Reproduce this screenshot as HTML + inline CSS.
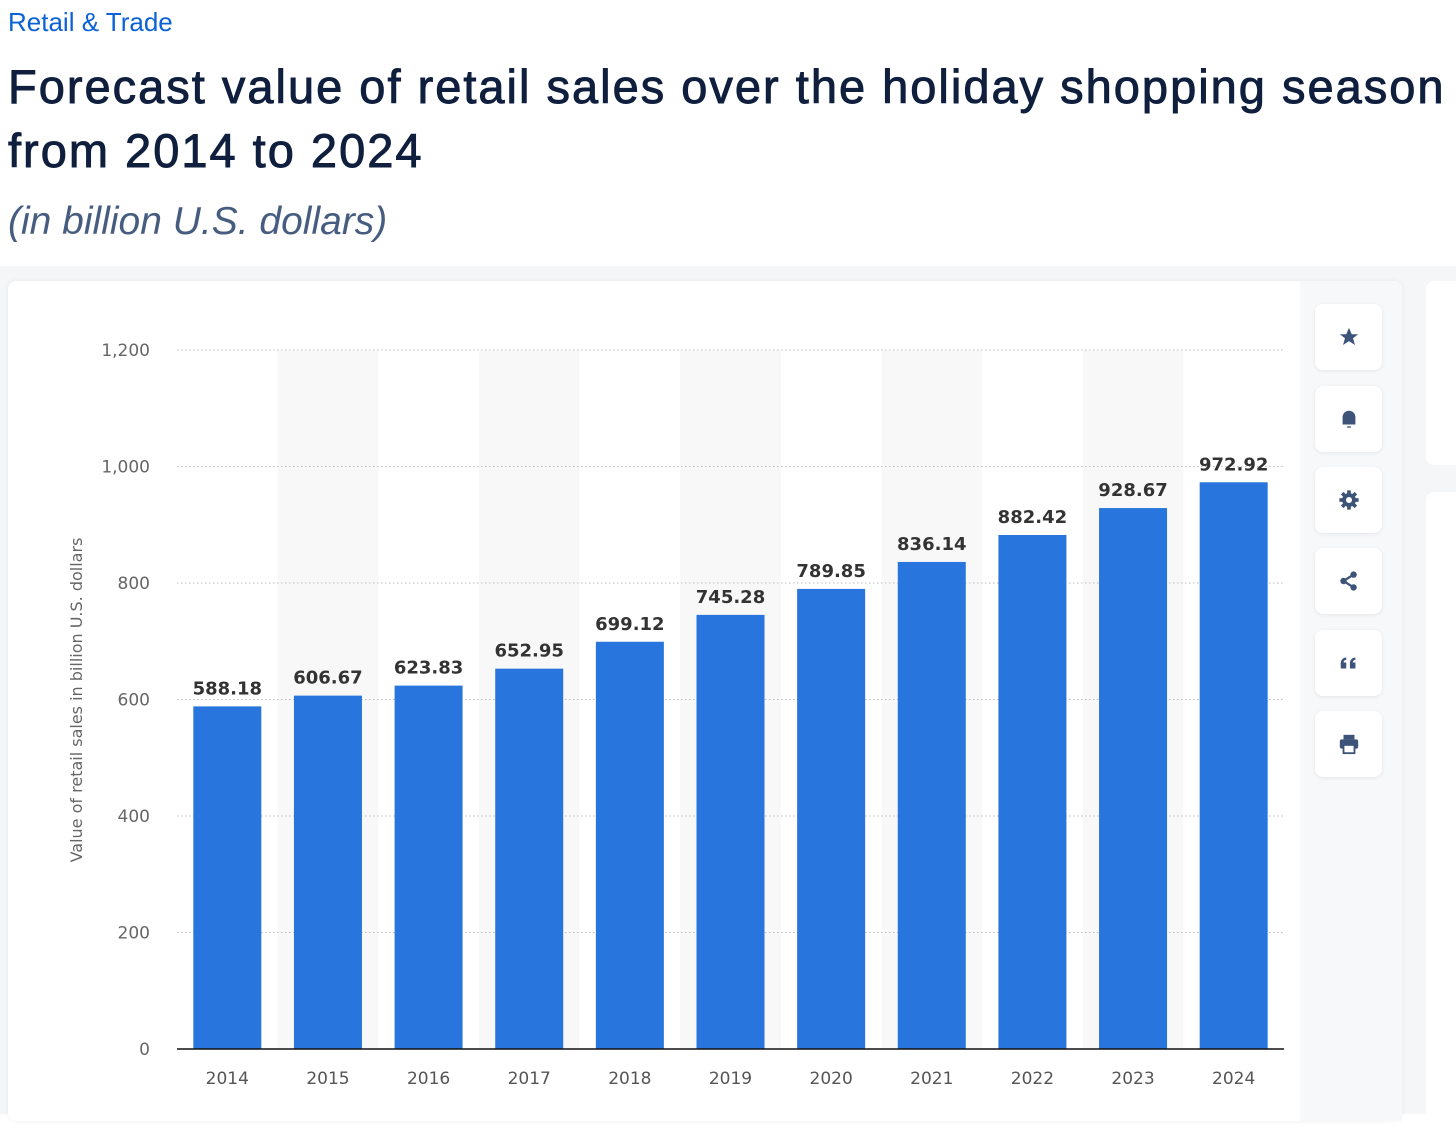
<!DOCTYPE html>
<html><head><meta charset="utf-8"><style>
body{margin:0;width:1456px;height:1114px;overflow:hidden;background:#fff;font-family:"Liberation Sans",sans-serif;position:relative}
.a{position:absolute}
.btn{position:absolute;left:1315px;width:67px;height:66px;background:#fff;border-radius:8px;box-shadow:0 1px 4px rgba(0,0,0,.08);display:flex;align-items:center;justify-content:center}
</style></head><body>
<div class="a" style="left:8px;top:7px;font-size:26px;color:#0b62d6">Retail &amp; Trade</div>
<div class="a" style="left:8px;top:55px;font-size:47px;line-height:64px;color:#0f1f3d;font-weight:normal;letter-spacing:2px;-webkit-text-stroke:0.9px #0f1f3d;white-space:nowrap">Forecast value of retail sales over the holiday shopping season<br>from 2014 to 2024</div>
<div class="a" style="left:8px;top:200px;font-size:39px;font-style:italic;color:#465d7f">(in billion U.S. dollars)</div>
<div class="a" style="left:0;top:266px;width:1456px;height:848px;background:#f5f6f8"></div>
<div class="a" style="left:8px;top:281px;width:1394px;height:840px;background:#fff;border-radius:8px;box-shadow:0 0 6px rgba(0,0,0,.06)"></div>
<div class="a" style="left:1300px;top:281px;width:102px;height:840px;background:#f7f8fa;border-radius:0 8px 0 0"></div>
<div class="a" style="left:1426px;top:281px;width:40px;height:184px;background:#fff;border-radius:8px"></div>
<div class="a" style="left:1426px;top:492px;width:40px;height:640px;background:#fff;border-radius:8px"></div>
<div class="btn" style="top:304px"><svg width="22" height="22" viewBox="0 0 24 24"><path fill="#3d5478" d="M12 2l3 7h7l-5.6 4.4 2.1 7.3L12 16.5 5.5 20.7l2.1-7.3L2 9h7z"/></svg></div>
<div class="btn" style="top:386px"><svg width="22" height="22" viewBox="0 0 24 24"><path fill="#3d5478" d="M5 18V10a7 7 0 0 1 14 0v8z"/><rect x="10" y="20" width="4" height="1.5" fill="#3d5478"/></svg></div>
<div class="btn" style="top:467px"><svg width="22" height="22" viewBox="0 0 24 24"><circle cx="12" cy="12" r="7.5" fill="#3d5478"/><g fill="#3d5478"><rect x="10" y="1.5" width="4" height="21"/><rect x="1.5" y="10" width="21" height="4"/><rect x="10" y="1.5" width="4" height="21" transform="rotate(45 12 12)"/><rect x="10" y="1.5" width="4" height="21" transform="rotate(-45 12 12)"/></g><circle cx="12" cy="12" r="3.3" fill="#fff"/></svg></div>
<div class="btn" style="top:548px"><svg width="22" height="22" viewBox="0 0 24 24"><g stroke="#3d5478" stroke-width="2.5"><line x1="6" y1="12" x2="17" y2="5"/><line x1="6" y1="12" x2="17" y2="19"/></g><g fill="#3d5478"><circle cx="6" cy="12" r="3.5"/><circle cx="17" cy="5" r="3.5"/><circle cx="17" cy="19" r="3.5"/></g></svg></div>
<div class="btn" style="top:630px"><svg width="22" height="22" viewBox="0 0 24 24"><g fill="#3d5478"><path d="M3 18v-6a6 6 0 0 1 6-6v2.5a3.5 3.5 0 0 0-3 3H9V18z"/><path d="M13 18v-6a6 6 0 0 1 6-6v2.5a3.5 3.5 0 0 0-3 3h3V18z"/></g></svg></div>
<div class="btn" style="top:711px"><svg width="22" height="22" viewBox="0 0 24 24"><rect x="6" y="2" width="12" height="5" fill="#3d5478"/><rect x="2" y="7" width="20" height="10" rx="2" fill="#3d5478"/><rect x="6" y="13" width="12" height="9" fill="#fff" stroke="#3d5478" stroke-width="2"/></svg></div>
<svg class="a" style="left:0;top:0" width="1300" height="1114" id="chart"></svg>
<script>
const categories=["2014","2015","2016","2017","2018","2019","2020","2021","2022","2023","2024"];
const values=[588.18,606.67,623.83,652.95,699.12,745.28,789.85,836.14,882.42,928.67,972.92];
const valueLabels=["588.18","606.67","623.83","652.95","699.12","745.28","789.85","836.14","882.42","928.67","972.92"];
const yTicks=[0,200,400,600,800,1000,1200];
const yTickLabels=["0","200","400","600","800","1,000","1,200"];
const NS="http://www.w3.org/2000/svg";
const svg=document.getElementById('chart');
const x0=177,x1=1284,y0=1049,y1=350,yMax=1200;
const step=(x1-x0)/categories.length;
const y=v=>y0-(v/yMax)*(y0-y1);
const xc=i=>x0+step*(i+0.5);
function el(t,a){const e=document.createElementNS(NS,t);for(const k in a)e.setAttribute(k,a[k]);svg.appendChild(e);return e;}
categories.forEach((c,i)=>{if(i%2==1){const b=el('rect',{x:x0+step*i,y:y1,width:step,height:y0-y1,fill:'#f8f8f8'});

}});
yTicks.forEach((t,i)=>{
if(t>0){const g=el('line',{x1:x0,x2:x1,y1:y(t),y2:y(t),stroke:'#bbb','stroke-dasharray':'1.5 2.5'});

}
const l=el('text',{x:150,y:y(t)+6,'text-anchor':'end','font-size':'17','fill':'#666','font-family':'DejaVu Sans,sans-serif'});l.textContent=yTickLabels[i];


});
categories.forEach((c,i)=>{
const b=el('rect',{x:xc(i)-34,y:y(values[i]),width:68,height:y0-y(values[i]),fill:'#2876dd'});


const v=el('text',{x:xc(i),y:y(values[i])-12,'text-anchor':'middle','font-size':'18','font-weight':'bold','fill':'#333','font-family':'DejaVu Sans,sans-serif'});v.textContent=valueLabels[i];


const t=el('text',{x:xc(i),y:1084,'text-anchor':'middle','font-size':'17','fill':'#555','font-family':'DejaVu Sans,sans-serif'});t.textContent=c;


});
const ax=el('line',{x1:x0,x2:x1,y1:y0,y2:y0,stroke:'#111','stroke-width':'1.5'});


const yt=el('text',{x:0,y:0,transform:'translate(82,700) rotate(-90)','text-anchor':'middle','font-size':'16','fill':'#666','font-family':'DejaVu Sans,sans-serif'});yt.textContent='Value of retail sales in billion U.S. dollars';


</script>
</body></html>
